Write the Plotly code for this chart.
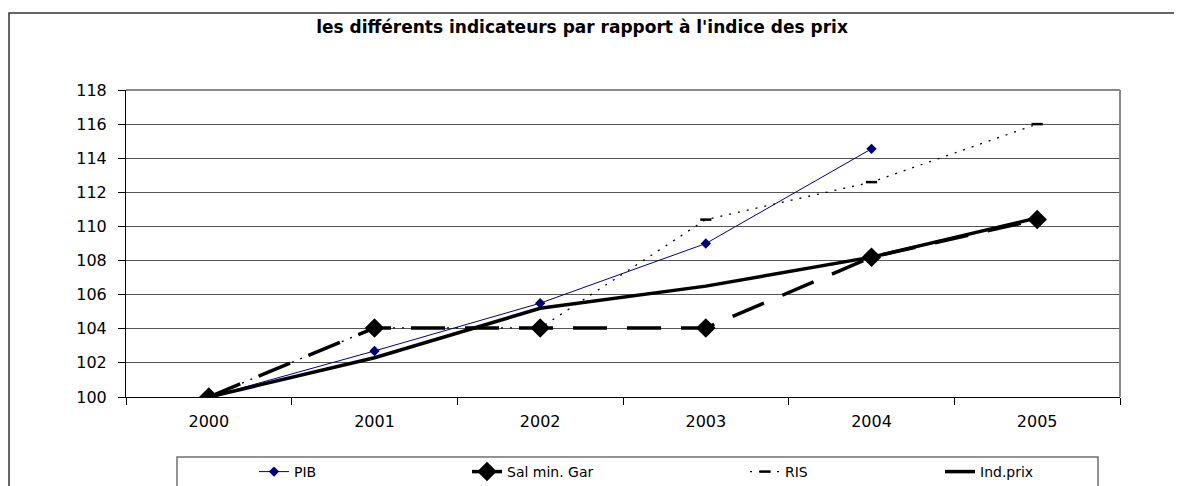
import plotly.graph_objects as go

years = ["2000", "2001", "2002", "2003", "2004", "2005"]
pib = [100, 102.7, 105.5, 109.0, 114.55, None]
sal_min_gar = [100, 104.05, 104.05, 104.05, 108.2, 110.4]
ris = [100, 104.05, 104.05, 110.4, 112.6, 116.0]
ind_prix = [100, 102.3, 105.2, 106.5, 108.2, 110.5]

PAGE_W = 1182
M = 8  # default page margin around the figure
W, H = PAGE_W - M, 540
# plot area in page pixels
L, R, T, B = 126, 1120, 90, 397


def px(x):
    return (x - L) / (R - L)


def py(y):
    return (B - y) / (B - T)


FONT = "DejaVu Sans"

fig = go.Figure()

fig.add_trace(go.Scatter(
    x=years, y=pib, name="PIB", mode="lines+markers",
    line=dict(color="#000080", width=1),
    marker=dict(symbol="diamond", size=8, color="#000080"),
    legend="legend",
))
fig.add_trace(go.Scatter(
    x=years, y=ris, name="RIS", mode="lines+markers",
    line=dict(color="black", width=1.3, dash="2px,7px"),
    marker=dict(symbol="line-ew", size=8, line=dict(color="black", width=2.5)),
    legend="legend3",
))
fig.add_trace(go.Scatter(
    x=years, y=ind_prix, name="Ind.prix", mode="lines",
    line=dict(color="black", width=3.5),
    legend="legend4",
))
fig.add_trace(go.Scatter(
    x=years, y=sal_min_gar, name="Sal min. Gar", mode="lines+markers",
    line=dict(color="black", width=3.5, dash="34px,20px"),
    marker=dict(symbol="diamond", size=15, color="black"),
    legend="legend2",
))

legend_font = dict(family=FONT, size=14, color="black")
common_leg = dict(orientation="h", yanchor="middle", y=py(472), xanchor="left",
                  font=legend_font, bgcolor="rgba(0,0,0,0)", borderwidth=0)

fig.update_layout(
    width=W, height=H,
    margin=dict(l=L - M, r=(W + M) - R, t=T - M, b=(H + M) - B, pad=0),
    paper_bgcolor="white", plot_bgcolor="white",
    title=dict(text="<b>les différents indicateurs par rapport à l'indice des prix</b>",
               x=(582 - M) / W, xanchor="center", y=1 - (27 - M) / H, yanchor="middle",
               font=dict(family=FONT, size=17, color="black")),
    showlegend=True,
    legend=dict(common_leg, x=px(254)),
    legend2=dict(common_leg, x=px(467)),
    legend3=dict(common_leg, x=px(745)),
    legend4=dict(common_leg, x=px(940)),
    xaxis=dict(
        type="category", range=[-0.5, 5.5],
        showgrid=False, showline=True, linecolor="black", linewidth=1,
        ticks="outside", tickson="boundaries", ticklen=7, tickcolor="black",
        tickfont=dict(family=FONT, size=16, color="black"),
        ticklabelstandoff=10, zeroline=False, fixedrange=True,
    ),
    yaxis=dict(
        range=[100, 118], dtick=2, tick0=100,
        showgrid=True, gridcolor="#555555", gridwidth=1,
        showline=True, linecolor="black", linewidth=1,
        ticks="outside", ticklen=7, tickcolor="black",
        tickfont=dict(family=FONT, size=16, color="black"),
        ticklabelstandoff=8, zeroline=False, fixedrange=True,
    ),
    shapes=[
        # outer chart border
        dict(type="rect", xref="paper", yref="paper",
             x0=px(9), x1=px(1200), y0=py(530), y1=py(13),
             line=dict(color="#333333", width=1.5), layer="below"),
        # plot area border (top/right in grey)
        dict(type="line", xref="paper", yref="paper", x0=0, x1=1, y0=1, y1=1,
             line=dict(color="#8a8a8a", width=2)),
        dict(type="line", xref="paper", yref="paper", x0=1, x1=1, y0=0, y1=1,
             line=dict(color="#8a8a8a", width=2)),
        # legend box
        dict(type="rect", xref="paper", yref="paper",
             x0=px(177), x1=px(1098), y0=py(530), y1=py(457),
             line=dict(color="#707070", width=1.5)),
    ],
)

fig.write_html("out.html")
